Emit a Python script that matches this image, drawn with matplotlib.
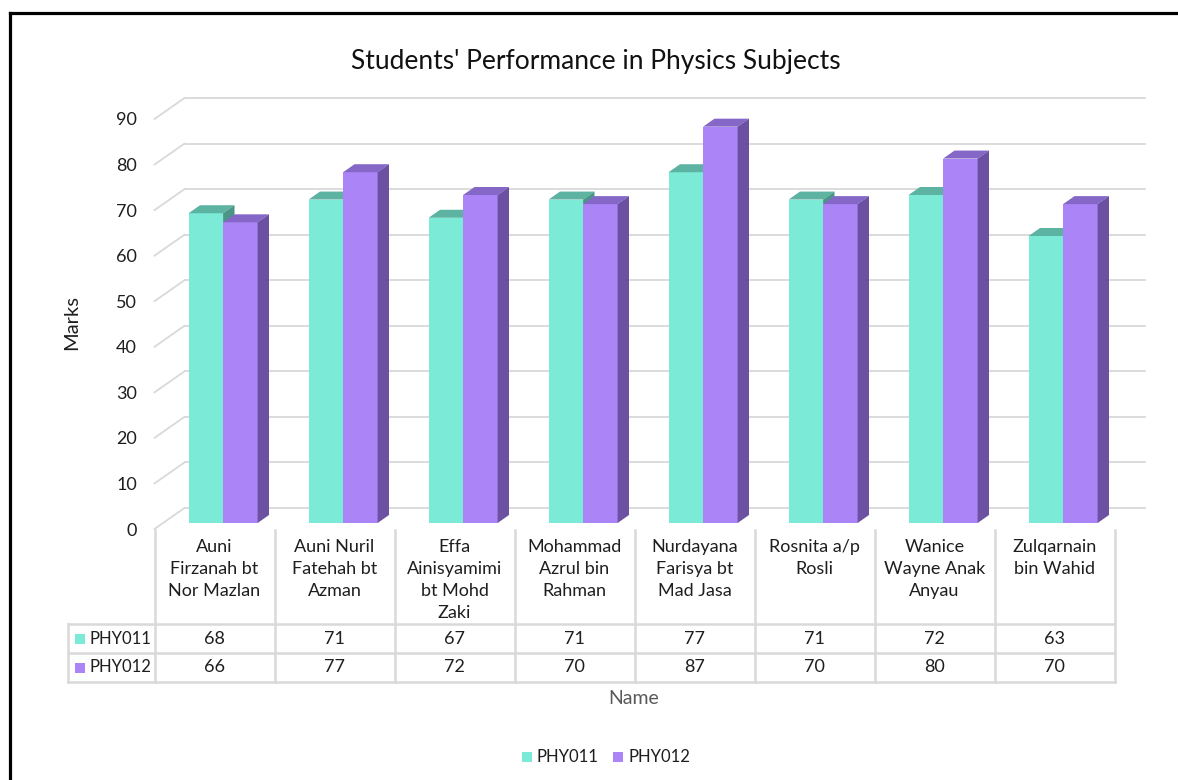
import matplotlib
matplotlib.use("Agg")
import matplotlib.pyplot as plt
from matplotlib.patches import Polygon, Rectangle
from matplotlib.lines import Line2D

# ---------------- data ----------------
names = ["Auni\nFirzanah bt\nNor Mazlan", "Auni Nuril\nFatehah bt\nAzman",
         "Effa\nAinisyamimi\nbt Mohd\nZaki", "Mohammad\nAzrul bin\nRahman",
         "Nurdayana\nFarisya bt\nMad Jasa", "Rosnita a/p\nRosli",
         "Wanice\nWayne Anak\nAnyau", "Zulqarnain\nbin Wahid"]
series_names = ["PHY011", "PHY012"]
phy011 = [68, 71, 67, 71, 77, 71, 72, 63]
phy012 = [66, 77, 72, 70, 87, 70, 80, 70]
yticks = [0, 10, 20, 30, 40, 50, 60, 70, 80, 90]
title = "Students' Performance in Physics Subjects"
xlabel = "Name"
ylabel = "Marks"

# ---------------- style ----------------
FONT = ["Lato", "DejaVu Sans"]
plt.rcParams["font.family"] = FONT
front_cols = ["#7BEAD6", "#AB85F8"]
top_cols = ["#5CB3A2", "#8567C8"]
side_cols = ["#4A9585", "#6C51A3"]
grid_col = "#D9D9D9"
txt = "#1E1E1E"

W, H, DPI = 1178, 780, 100
fig = plt.figure(figsize=(W / DPI, H / DPI), dpi=DPI)
ax = fig.add_axes([0, 0, 1, 1])
ax.set_axis_off()

# pixel geometry of the Excel-like layout
COLX0 = 214.5   # centre of first category column (px)
COLW = 120.0    # column width (px)
Y0 = 529.0      # y (px from top) of value 0 on the front plane
K = 410.0 / 90  # px per mark

def ux(px):      # horizontal pixel length -> data units
    return px / COLW

def uy(px):      # vertical pixel length -> data units
    return px / K

def xv(px):      # absolute pixel x -> data x
    return (px - COLX0) / COLW

def yv(py):      # absolute pixel y (from top) -> data y
    return (Y0 - py) / K

ax.set_xlim(xv(0), xv(W))
ax.set_ylim(yv(H), yv(0))

n = len(names)
x_left, x_right = -0.5, n - 0.5
BX, BY = ux(30), uy(21)        # back wall offset

# back wall gridlines and side-wall diagonals
for v in yticks:
    ax.add_line(Line2D([x_left + BX, x_right + BX], [v + BY, v + BY],
                       color=grid_col, lw=1.3, zorder=1))
    ax.add_line(Line2D([x_left, x_left + BX], [v, v + BY],
                       color=grid_col, lw=1.3, zorder=1))
    ax.text(xv(137), v - uy(1.5), str(v), ha="right", va="center",
            fontsize=13, color=txt)

# bars (3D look)
bw = ux(34.5)
PX, PY = ux(8.6), uy(6)        # bar plane offset from front
DX, DY = ux(11.4), uy(8)       # bar depth
for i in range(n):
    for s, vals in enumerate([phy011, phy012]):
        v = vals[i]
        xl = i - bw + s * bw + PX
        xr = xl + bw
        b = PY
        t = v + PY
        z = 3 + s
        ax.add_patch(Rectangle((xl, b), bw, v, facecolor=front_cols[s],
                               edgecolor="none", zorder=z))
        ax.add_patch(Polygon([(xl, t), (xr, t), (xr + DX, t + DY),
                              (xl + DX, t + DY)], closed=True,
                             facecolor=top_cols[s], edgecolor="none",
                             zorder=z))
        ax.add_patch(Polygon([(xr, b), (xr, t), (xr + DX, t + DY),
                              (xr + DX, b + DY)], closed=True,
                             facecolor=side_cols[s], edgecolor="none",
                             zorder=z))

# data table
tl = dict(color=grid_col, lw=1.8, zorder=2)
y_head_top, y_r1, y_r2, y_r3 = yv(530), yv(624), yv(653), yv(682)
x_lab = xv(68)
for k in range(n + 1):
    ax.add_line(Line2D([x_left + k, x_left + k], [y_head_top, y_r3], **tl))
ax.add_line(Line2D([x_lab, x_lab], [y_r1, y_r3], **tl))
for yy in (y_r1, y_r2, y_r3):
    ax.add_line(Line2D([x_lab, x_right], [yy, yy], **tl))

for i, nm in enumerate(names):
    ax.text(i, yv(539), nm, ha="center", va="top", fontsize=13,
            color=txt, linespacing=1.45)
    ax.text(i, (y_r1 + y_r2) / 2, str(phy011[i]), ha="center",
            va="center", fontsize=13, color=txt)
    ax.text(i, (y_r2 + y_r3) / 2, str(phy012[i]), ha="center",
            va="center", fontsize=13, color=txt)

for s, nm in enumerate(series_names):
    yc = [(y_r1 + y_r2) / 2, (y_r2 + y_r3) / 2][s]
    ax.add_patch(Rectangle((xv(75), yc - uy(5)), ux(10), uy(10),
                           facecolor=front_cols[s], edgecolor="none"))
    ax.text(xv(89), yc, nm, ha="left", va="center", fontsize=12, color=txt)

# titles
ax.text(xv(596), yv(62), title, ha="center", va="center", fontsize=19,
        color="#111111")
ax.text(xv(634), yv(699), xlabel, ha="center", va="center", fontsize=14,
        color="#595959")
ax.text(xv(72), yv(323), ylabel, ha="center", va="center", fontsize=14.5,
        rotation=90, color=txt)

# legend
for s, nm in enumerate(series_names):
    x0 = [522, 613][s]
    ax.add_patch(Rectangle((xv(x0), yv(762)), ux(10), uy(10),
                           facecolor=front_cols[s], edgecolor="none"))
    ax.text(xv(x0 + 15), yv(757), nm, ha="left", va="center", fontsize=12,
            color=txt)

# chart frame (cropped border)
fig.add_artist(Line2D([10 / W, 10 / W], [1 - 13 / H, -0.05], color="black",
                      lw=2.3, transform=fig.transFigure))
fig.add_artist(Line2D([10 / W, 1.05], [1 - 13 / H, 1 - 13 / H],
                      color="black", lw=2.3, transform=fig.transFigure))

fig.savefig("out.png", dpi=DPI, facecolor="white")
